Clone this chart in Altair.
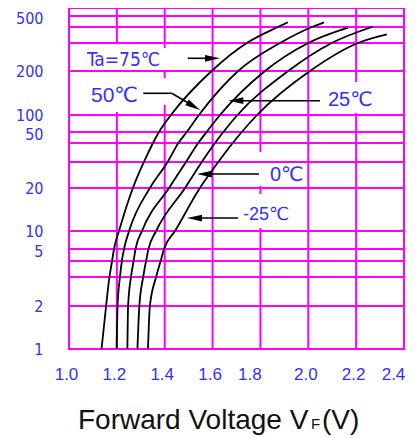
import altair as alt
import pandas as pd

# ---- axis ticks / grid values ----
x_ticks = [1.0, 1.2, 1.4, 1.6, 1.8, 2.0, 2.2, 2.4]
x_grid = [1.2, 1.4, 1.6, 1.8, 2.0, 2.2]
y_ticks = [1, 2, 5, 10, 20, 50, 100, 200, 500]
y_grid = [2, 3, 4, 5, 10, 20, 30, 40, 50, 100, 200, 300, 400, 500]

# ---- series: forward current IF (mA) vs forward voltage VF (V) ----
temps = ["Ta=75", "50", "25", "0", "-25"]
i_75 = [1, 2, 3, 4, 5, 10, 20, 30, 40, 50, 100, 200, 300, 400, 440]
vf_75 = [1.136, 1.155, 1.169, 1.180, 1.188, 1.209, 1.267, 1.313, 1.351, 1.376, 1.426, 1.596, 1.743, 1.873, 1.915]
i_50 = [1, 2, 3, 4, 5, 10, 20, 30, 40, 50, 100, 200, 300, 400, 440]
vf_50 = [1.199, 1.203, 1.213, 1.221, 1.230, 1.251, 1.338, 1.412, 1.457, 1.492, 1.543, 1.707, 1.882, 2.015, 2.066]
i_25 = [1, 2, 3, 4, 5, 10, 20, 30, 40, 50, 100, 200, 300, 395]
vf_25 = [1.244, 1.247, 1.259, 1.270, 1.278, 1.305, 1.418, 1.489, 1.540, 1.575, 1.631, 1.819, 2.000, 2.166]
i_0 = [1, 2, 3, 4, 5, 10, 20, 30, 40, 50, 100, 200, 300, 402]
vf_0 = [1.286, 1.294, 1.310, 1.322, 1.332, 1.364, 1.485, 1.555, 1.610, 1.645, 1.704, 1.916, 2.098, 2.269]
i_m25 = [1, 2, 3, 4, 5, 10, 20, 30, 40, 50, 100, 200, 300, 350]
vf_m25 = [1.330, 1.338, 1.364, 1.383, 1.397, 1.443, 1.547, 1.624, 1.684, 1.722, 1.786, 2.007, 2.208, 2.328]

rows = []
for t, ii, vv in zip(temps, [i_75, i_50, i_25, i_0, i_m25], [vf_75, vf_50, vf_25, vf_0, vf_m25]):
    for a, b in zip(ii, vv):
        rows.append({"T": t, "I": a, "V": b})
curves_df = pd.DataFrame(rows)

MAG = "#ff00ff"
BLUE = "#3030ff"
SANS = "Liberation Sans, Arial, DejaVu Sans, sans-serif"
NARROW = "Liberation Sans Narrow, Arial Narrow, DejaVu Sans Condensed, Liberation Sans, DejaVu Sans, sans-serif"

# chart's own (non-true-log) vertical spacing of the printed grid
y_dom = [1, 2, 3, 4, 5, 10, 20, 30, 40, 50, 100, 200, 300, 400, 500, 1000]
y_rng = [341, 298, 269, 253, 241, 223, 180, 154, 135, 124, 107, 63, 35, 19, 8, -10]

xs = alt.Scale(domain=[1.0, 2.4], nice=False, zero=False)
ys = alt.Scale(type="log", domain=y_dom, range=y_rng, nice=False)

x_axis = alt.Axis(values=x_ticks, format=".1f", grid=False, ticks=False, tickSize=0,
                  domain=False, labelFont=SANS, labelFontSize=17, labelColor=BLUE,
                  labelPadding=17, labelFlush=False,
                  labelOffset={"condition": {"test": "datum.value == 1.8 || datum.value == 2.4", "value": -11},
                               "value": -3},
                  title=None)
y_axis = alt.Axis(values=y_ticks, format="d", grid=False, ticks=False, tickSize=0,
                  domain=False, labelFont=NARROW, labelFontSize=16, labelColor=BLUE,
                  labelPadding=26, labelFlush=False,
                  labelOffset={"condition": {"test": "datum.value == 500 || datum.value == 50 || datum.value == 5",
                                             "value": 2}, "value": 0},
                  title=None)

one = alt.Data(values=[{}])

vrules = alt.Chart(pd.DataFrame({"V": x_grid})).mark_rule(color=MAG, strokeWidth=2).encode(
    x=alt.X("V:Q", scale=xs, axis=x_axis))
hrules = alt.Chart(pd.DataFrame({"I": y_grid})).mark_rule(color=MAG, strokeWidth=2).encode(
    y=alt.Y("I:Q", scale=ys, axis=y_axis))


def gap(x1, x2, y1, y2):
    return alt.Chart(one).mark_rect(color="white").encode(
        x=alt.value(x1), x2=alt.value(x2), y=alt.value(y1), y2=alt.value(y2))


gaps = [gap(44, 54, 36, 104), gap(92, 100, 40, 62), gap(92, 100, 70, 97),
        gap(188, 196, 144, 178), gap(188, 196, 186, 220), gap(283, 291, 74, 105)]

curves = alt.Chart(curves_df).mark_line(color="black", strokeWidth=1.8, interpolate="monotone").encode(
    x=alt.X("V:Q", scale=xs, axis=x_axis),
    y=alt.Y("I:Q", scale=ys, axis=y_axis),
    detail="T:N")


def seg(x1, y1, x2, y2):
    return alt.Chart(one).mark_rule(color="black", strokeWidth=1.6).encode(
        x=alt.value(x1), y=alt.value(y1), x2=alt.value(x2), y2=alt.value(y2))


def head(x, y, ang):
    return alt.Chart(one).mark_point(shape="M0,0L0.45,2L-0.45,2Z", filled=True, color="black",
                                     opacity=1, size=225, angle=ang, strokeWidth=0).encode(
        x=alt.value(x), y=alt.value(y))


arrows = [
    seg(118.7, 50.3, 145, 50.3), head(151, 50.3, 90),
    seg(74.3, 85.3, 102.7, 85.3), seg(102.7, 85.3, 126, 99), head(131, 102, 120.5),
    seg(251, 92.7, 165, 92.7), head(159.3, 92.7, 270),
    seg(190, 166, 134, 166), head(128, 166, 270),
    seg(169, 210, 124, 210), head(118, 210, 270),
]


def label(txt, x, y, size, font, color=BLUE, baseline="middle"):
    return alt.Chart(one).mark_text(text=txt, font=font, fontSize=size, color=color,
                                    align="left", baseline=baseline).encode(
        x=alt.value(x), y=alt.value(y))


labels = [
    label("Ta=75℃", 18, 52, 19, NARROW),
    label("50℃", 22, 88, 21, SANS),
    label("25℃", 259, 92, 20, SANS),
    label("0℃", 201, 167, 20, SANS),
    label("-25℃", 174, 207, 18, SANS),
    label("Forward Voltage V", 9, 421, 28, SANS, "#111111", "alphabetic"),
    label("F", 242, 421, 15, SANS, "#111111", "alphabetic"),
    label("(V)", 253, 421, 28, SANS, "#111111", "alphabetic"),
]

chart = alt.layer(vrules, *gaps, hrules, curves, *arrows, *labels).properties(
    width=335, height=341,
    padding={"left": 61, "top": 0, "right": 3, "bottom": 86},
    autosize=alt.AutoSizeParams(type="none"),
    background="white",
).configure_view(stroke=MAG, strokeWidth=2)

chart.save("out.html", embed_options={"renderer": "svg", "actions": False})
